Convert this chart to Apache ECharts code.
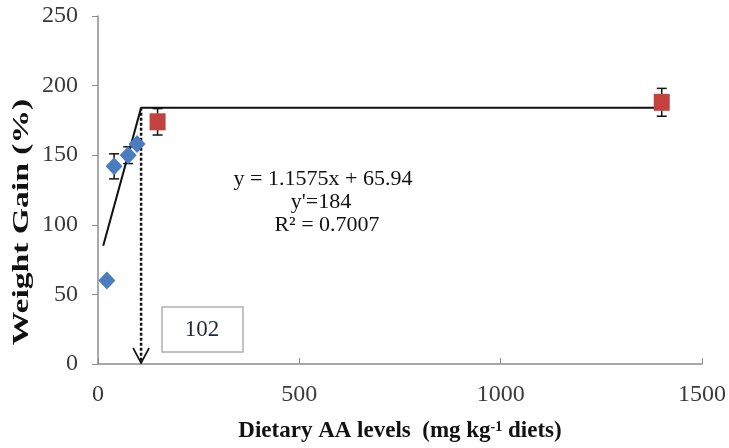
<!DOCTYPE html>
<html>
<head>
<meta charset="utf-8">
<script src="https://cdn.jsdelivr.net/npm/echarts@6/dist/echarts.min.js"></script>
<style>html,body{margin:0;padding:0;background:#fff}#c{width:729px;height:448px}</style>
</head>
<body>
<div id="c"></div>
<script>
// Data
const blueX = [22, 40, 75, 97];
const blueY = [60, 142, 150, 158];
const blueErr = [0, 9, 6, 0];
const redX = [148, 1400];
const redY = [174, 188];
const redErr = [9.5, 10];
const lineX = [13, 107, 1410];
const lineY = [85, 184, 184];
const breakX = 107;
const breakLabel = '102';
const xTicks = [0, 500, 1000, 1500];
const yTicks = [0, 50, 100, 150, 200, 250];
const eqLines = ['y = 1.1575x + 65.94', "y'=184", 'R² = 0.7007'];

const serif = '"Liberation Serif","Times New Roman",serif';
const chart = echarts.init(document.getElementById('c'));

const errData = blueX.map((x, i) => [x, blueY[i], blueErr[i]])
  .concat(redX.map((x, i) => [x, redY[i], redErr[i]]))
  .filter(d => d[2] > 0);

function errRender(params, api) {
  const x = api.value(0), y = api.value(1), e = api.value(2);
  const top = api.coord([x, y + e]);
  const bot = api.coord([x, y - e]);
  const w = 5;
  const st = {stroke: '#111', lineWidth: 1.5};
  return {type: 'group', children: [
    {type: 'line', shape: {x1: top[0], y1: top[1], x2: bot[0], y2: bot[1]}, style: st},
    {type: 'line', shape: {x1: top[0] - w, y1: top[1], x2: top[0] + w, y2: top[1]}, style: st},
    {type: 'line', shape: {x1: bot[0] - w, y1: bot[1], x2: bot[0] + w, y2: bot[1]}, style: st}
  ]};
}

function arrowRender(params, api) {
  const x = api.value(0), y = api.value(1);
  const p1 = api.coord([x, y]);
  const p2 = api.coord([x, 0]);
  return {type: 'group', children: [
    {type: 'line', shape: {x1: p1[0], y1: p1[1], x2: p2[0], y2: p2[1] - 1},
      style: {stroke: '#111', lineWidth: 2.5, lineDash: [3, 2]}},
    {type: 'polyline', shape: {points: [[p2[0] - 8, p2[1] - 16], [p2[0], p2[1] - 1], [p2[0] + 8, p2[1] - 16]]},
      style: {stroke: '#111', lineWidth: 1.6, fill: null}}
  ]};
}

chart.setOption({
  animation: false,
  backgroundColor: '#fff',
  grid: {left: 98, right: 26, top: 16, bottom: 82},
  xAxis: {
    type: 'value', min: 0, max: 1500, interval: 500,
    axisLine: {show: true, lineStyle: {color: '#8c8c8c', width: 1.5}},
    axisTick: {show: true, inside: true, length: 6, lineStyle: {color: '#8c8c8c'}},
    splitLine: {show: false},
    axisLabel: {margin: 19, fontFamily: serif, fontSize: 24, color: '#3a3a3a',
      formatter: v => xTicks.includes(v) ? String(v) : ''},
    name: '{b|Dietary AA levels  (mg kg}{s|-1}{b| diets)}',
    nameLocation: 'middle', nameGap: 56,
    nameTextStyle: {rich: {
      b: {fontFamily: serif, fontSize: 23, fontWeight: 'bold', color: '#111'},
      s: {fontFamily: serif, fontSize: 14, fontWeight: 'bold', color: '#111', verticalAlign: 'top', padding: [0, 0, 9, 0]}
    }}
  },
  yAxis: {
    type: 'value', min: 0, max: 250, interval: 50,
    axisLine: {show: true, lineStyle: {color: '#8c8c8c', width: 1.5}},
    axisTick: {show: true, inside: false, length: 6, lineStyle: {color: '#8c8c8c'}},
    splitLine: {show: false},
    axisLabel: {margin: 20, fontFamily: serif, fontSize: 24, color: '#3a3a3a',
      formatter: v => yTicks.includes(v) ? String(v) : ''}
  },
  series: [
    {type: 'line', data: lineX.map((x, i) => [x, lineY[i]]), showSymbol: false, symbol: 'none',
      lineStyle: {color: '#111', width: 2}, z: 2},
    {type: 'custom', data: [[breakX, lineY[1]]], renderItem: arrowRender, z: 3},
    {type: 'custom', data: errData, renderItem: errRender, z: 4},
    {type: 'scatter', data: blueX.map((x, i) => [x, blueY[i]]), symbol: 'diamond', symbolSize: [17, 18],
      itemStyle: {color: '#4a7dc0', opacity: 1}, z: 5},
    {type: 'scatter', data: redX.map((x, i) => [x, redY[i]]), symbol: 'rect', symbolSize: [16, 17],
      itemStyle: {color: '#c4423e', opacity: 1}, z: 5}
  ],
  graphic: [
    {type: 'text', x: 22, y: 222, rotation: Math.PI / 2, scaleX: 1.4,
      style: {text: 'Weight Gain (%)', fontFamily: serif, fontSize: 24, fontWeight: 'bold', fill: '#111',
        textAlign: 'center', textVerticalAlign: 'middle'}},
    {type: 'text', x: 323, y: 179, style: {text: eqLines[0], fontFamily: serif, fontSize: 22, fill: '#111',
      textAlign: 'center', textVerticalAlign: 'middle'}},
    {type: 'text', x: 321, y: 202, style: {text: eqLines[1], fontFamily: serif, fontSize: 22, fill: '#111',
      textAlign: 'center', textVerticalAlign: 'middle'}},
    {type: 'text', x: 327, y: 225, style: {text: eqLines[2], fontFamily: serif, fontSize: 22, fill: '#111',
      textAlign: 'center', textVerticalAlign: 'middle'}},
    {type: 'rect', shape: {x: 162, y: 307, width: 81, height: 45},
      style: {fill: '#fff', stroke: '#b0b0b0', lineWidth: 1.5}},
    {type: 'text', x: 202, y: 330, style: {text: breakLabel, fontFamily: serif, fontSize: 23, fill: '#1e2a38',
      textAlign: 'center', textVerticalAlign: 'middle'}}
  ]
});
</script>
</body>
</html>
